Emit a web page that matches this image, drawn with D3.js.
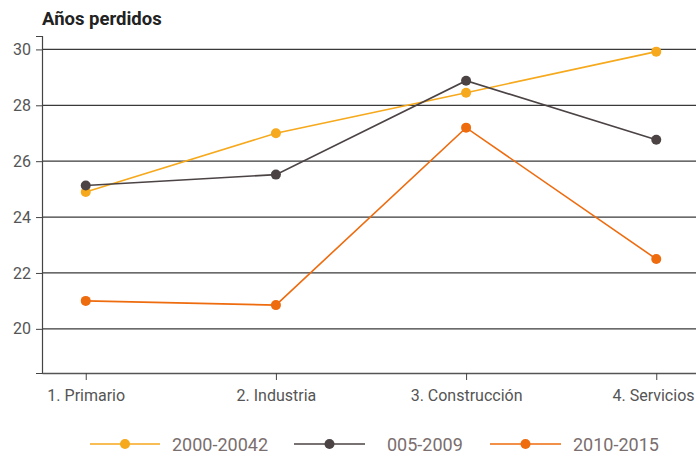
<!DOCTYPE html>
<html><head><meta charset="utf-8">
<script src="https://cdn.jsdelivr.net/npm/d3@7"></script>
<style>
html,body{margin:0;padding:0;background:#fff;}
svg{display:block;font-family:Roboto, "Noto Sans", sans-serif;}
</style></head>
<body>
<svg id="c" width="696" height="454"></svg>
<script>
const categories = ["1. Primario", "2. Industria", "3. Construcción", "4. Servicios"];
const seriesNames = ["2000-20042", "005-2009", "2010-2015"];
const series2000 = [24.9, 27.0, 28.45, 29.92];
const series2005 = [25.13, 25.52, 28.88, 26.77];
const series2010 = [21.0, 20.85, 27.2, 22.5];
const yTicks = [20, 22, 24, 26, 28, 30];
const colors = ["#F6A91C", "#4B4344", "#EE6B0E"];

const svg = d3.select("#c");
const x = d3.scalePoint().domain(categories).range([42, 700]).padding(0.23);
const y = d3.scaleLinear().domain([18.42, 30.48]).range([373, 36]);

// title
svg.append("text").attr("x", 42).attr("y", 25).attr("font-size", 18.5).attr("font-weight", 700)
  .attr("fill", "#222").text("Años perdidos");

// gridlines
svg.append("g").selectAll("line").data(yTicks).join("line")
  .attr("x1", 42).attr("x2", 696).attr("y1", d => y(d)).attr("y2", d => y(d))
  .attr("stroke", "#3a3a3a").attr("stroke-width", 1.2);

// y axis
const yAxis = svg.append("g").attr("transform", "translate(42,0)")
  .call(d3.axisLeft(y).tickValues(yTicks).tickSize(6).tickPadding(5));
yAxis.select(".domain").attr("stroke", "#444").attr("stroke-width", 1.2);
yAxis.selectAll(".tick line").attr("stroke", "#444");
yAxis.selectAll("text").attr("font-size", 16).attr("fill", "#555").attr("font-family", "Roboto");

// x axis
const xAxis = svg.append("g").attr("transform", "translate(0,373)")
  .call(d3.axisBottom(x).tickSize(7).tickSizeOuter(0).tickPadding(10));
xAxis.select(".domain").attr("stroke", "#555").attr("stroke-width", 1.5);
xAxis.selectAll(".tick line").attr("stroke", "#444");
xAxis.selectAll("text").attr("font-size", 16).attr("fill", "#555").attr("font-family", "Roboto");
// keep the last label inside the frame
xAxis.selectAll(".tick").filter((d, i, n) => i === n.length - 1).select("text")
  .attr("text-anchor", "end").attr("x", 694 - x(categories[categories.length - 1]));

const all = [series2000, series2005, series2010];
const line = d3.line().x((d, i) => x(categories[i])).y(d => y(d));
all.forEach((s, k) => {
  const g = svg.append("g");
  g.append("path").datum(s).attr("d", line).attr("fill", "none")
    .attr("stroke", colors[k]).attr("stroke-width", 1.6);
  g.selectAll("circle").data(s).join("circle")
    .attr("cx", (d, i) => x(categories[i])).attr("cy", d => y(d)).attr("r", 5)
    .attr("fill", colors[k]);
});

// legend
const legendItems = [
  {x1: 90, x2: 160, tx: 172},
  {x1: 294, x2: 365, tx: 387},
  {x1: 490, x2: 561, tx: 573}
];
const lg = svg.append("g");
legendItems.forEach((it, k) => {
  lg.append("line").attr("x1", it.x1).attr("x2", it.x2).attr("y1", 444).attr("y2", 444)
    .attr("stroke", colors[k]).attr("stroke-width", 1.6);
  lg.append("circle").attr("cx", (it.x1 + it.x2) / 2).attr("cy", 444).attr("r", 5).attr("fill", colors[k]);
  lg.append("text").attr("x", it.tx).attr("y", 450.5).attr("font-size", 18).attr("fill", "#7a6e6e")
    .text(seriesNames[k]);
});
</script>
</body></html>
